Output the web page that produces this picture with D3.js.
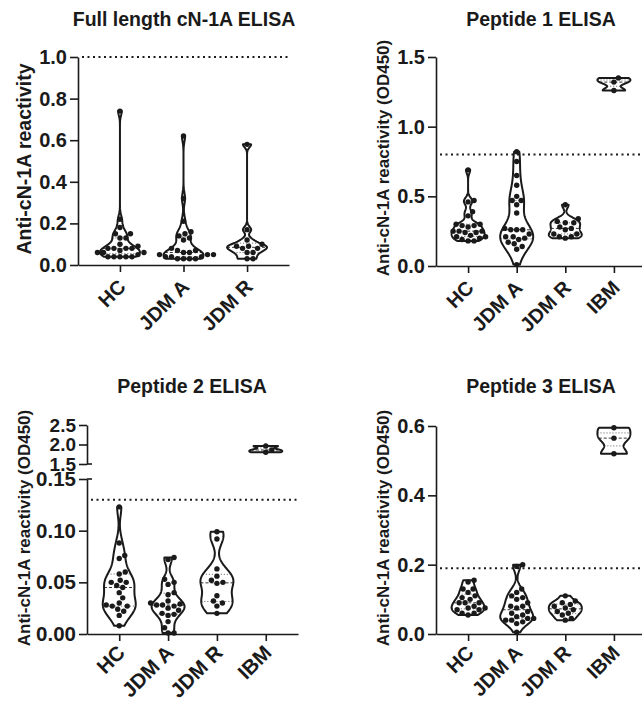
<!DOCTYPE html>
<html><head><meta charset="utf-8">
<script src="https://cdn.jsdelivr.net/npm/d3@7/dist/d3.min.js"></script>
<style>
body{margin:0;background:#fff}
text{font-family:"Liberation Sans",Arial,sans-serif;font-weight:bold;fill:#1a1a1a}
</style></head>
<body><svg id="c" width="642" height="703"></svg>
<script>
// ---------- data ----------
const categories = ["HC", "JDM A", "JDM R", "IBM"];
const titles = ["Full length cN-1A ELISA", "Peptide 1 ELISA", "Peptide 2 ELISA", "Peptide 3 ELISA"];
const yLabels = ["Anti-cN-1A reactivity", "Anti-cN-1A reactivity (OD450)", "Anti-cN-1A reactivity (OD450)", "Anti-cN-1A reactivity (OD450)"];
const thresholds = [1.0, 0.8, 0.13, 0.19];

const fullHC   = [0.74,0.22,0.18,0.15,0.15,0.13,0.13,0.10,0.09,0.08,0.08,0.08,0.08,0.07,0.06,0.06,0.06,0.05,0.04,0.04,0.04,0.04,0.04];
const fullJDMA = [0.62,0.32,0.21,0.16,0.15,0.14,0.13,0.12,0.08,0.07,0.07,0.06,0.06,0.05,0.05,0.05,0.04,0.04,0.04,0.03,0.03,0.03,0.03];
const fullJDMR = [0.58,0.17,0.12,0.10,0.09,0.09,0.08,0.08,0.06,0.06,0.03,0.03];

const pep1HC   = [0.69,0.47,0.46,0.39,0.36,0.30,0.30,0.29,0.29,0.28,0.25,0.25,0.25,0.24,0.24,0.22,0.21,0.21,0.20,0.19,0.18,0.18];
const pep1JDMA = [0.82,0.75,0.65,0.58,0.50,0.47,0.47,0.44,0.38,0.27,0.26,0.26,0.26,0.23,0.21,0.21,0.20,0.19,0.17,0.16,0.14,0.12,0.01];
const pep1JDMR = [0.44,0.34,0.32,0.31,0.31,0.28,0.27,0.26,0.23,0.23,0.21,0.21,0.20];
const pep1IBM  = [1.35,1.32,1.26];

const pep2HC   = [0.123,0.088,0.076,0.073,0.060,0.058,0.052,0.050,0.050,0.047,0.045,0.040,0.035,0.030,0.028,0.027,0.027,0.024,0.022,0.018,0.008];
const pep2JDMA = [0.074,0.072,0.053,0.050,0.048,0.040,0.038,0.032,0.030,0.029,0.028,0.028,0.027,0.025,0.023,0.020,0.019,0.018,0.012,0.006,0.001,0.001];
const pep2JDMR = [0.099,0.092,0.063,0.056,0.052,0.050,0.049,0.037,0.032,0.030,0.027,0.020];
const pep2IBM  = [1.96,1.86,1.80];

const pep3HC   = [0.155,0.15,0.13,0.13,0.12,0.11,0.105,0.10,0.09,0.09,0.09,0.08,0.075,0.075,0.07,0.07,0.06,0.06,0.055];
const pep3JDMA = [0.20,0.195,0.13,0.12,0.11,0.105,0.10,0.09,0.08,0.08,0.075,0.065,0.06,0.055,0.05,0.045,0.045,0.04,0.04,0.035,0.03,0.005];
const pep3JDMR = [0.11,0.095,0.09,0.085,0.08,0.075,0.07,0.065,0.06,0.055,0.045,0.04];
const pep3IBM  = [0.595,0.565,0.52];

const ticksFull = [0, 0.2, 0.4, 0.6, 0.8, 1.0];
const ticksPep1 = [0, 0.5, 1.0, 1.5];
const ticksPep2Low = [0, 0.05, 0.10, 0.15];
const ticksPep2High = [1.5, 2.0, 2.5];
const ticksPep3 = [0, 0.2, 0.4, 0.6];

// ---------- layout ----------
const svg = d3.select("#c");
const INK = "#1a1a1a";

const panels = [
  {title: titles[0], ylab: yLabels[0], thr: thresholds[0], cats: categories.slice(0,3),
   data: [fullHC, fullJDMA, fullJDMR], ymax: 1.0, ticks: ticksFull, fmt: ".1f",
   left: 78, xLen: 211, top: 57, bottom: 265, W: 20, tfs: 20, lfs: 19.5, xl: 23,
   titleX: 184, titleY: 26, labX: 24, labY: 159},
  {title: titles[1], ylab: yLabels[1], thr: thresholds[1], cats: categories,
   data: [pep1HC, pep1JDMA, pep1JDMR, pep1IBM], ymax: 1.5, ticks: ticksPep1, fmt: ".1f",
   left: 436, xLen: 210, top: 57, bottom: 266, W: 16.5, tfs: 20, lfs: 17, xl: 23,
   titleX: 541, titleY: 26, labX: 383, labY: 158},
  {title: titles[2], ylab: yLabels[2], thr: thresholds[2], cats: categories,
   data: [pep2HC, pep2JDMA, pep2JDMR, pep2IBM], ymax: 0.15, ticks: ticksPep2Low, fmt: ".2f",
   left: 87, xLen: 211, top: 479, bottom: 634, W: 16.5, tfs: 20.5, lfs: 17, xl: 20,
   titleX: 192, titleY: 393, labX: 24, labY: 528,
   upper: {domain: [1.5, 2.5], range: [464, 425], ticks: ticksPep2High, fmt: ".1f", groups: [3], fs: 19}},
  {title: titles[3], ylab: yLabels[3], thr: thresholds[3], cats: categories,
   data: [pep3HC, pep3JDMA, pep3JDMR, pep3IBM], ymax: 0.6, ticks: ticksPep3, fmt: ".1f",
   left: 436, xLen: 210, top: 426, bottom: 634, W: 16.5, tfs: 20, lfs: 17, xl: 20,
   titleX: 541, titleY: 393, labX: 383, labY: 528}
];

function bandwidth(s) {
  const sd = d3.deviation(s);
  const iqr = (d3.quantile(s, 0.75) - d3.quantile(s, 0.25)) / 1.34;
  const a = iqr > 0 ? Math.min(sd, iqr) : sd;
  return 0.8 * 0.9 * a * Math.pow(s.length, -0.2);
}

function drawViolin(g, vals, cx, y, W) {
  const s = vals.slice().sort(d3.ascending);
  const lo = s[0], hi = s[s.length - 1];
  const h = bandwidth(s);
  const dens = t => d3.sum(s, v => Math.exp(-0.5 * ((t - v) / h) ** 2));
  const N = 120;
  const samples = d3.range(N + 1).map(i => lo + (hi - lo) * i / N);
  const dv = samples.map(dens);
  const m = d3.max(dv);
  const pts = samples.map((t, i) => ({v: t, w: dv[i] / m * W}));
  const area = d3.area().y(d => y(d.v)).x0(d => cx - d.w).x1(d => cx + d.w);
  [0.25, 0.5, 0.75].forEach(p => {
    const q = d3.quantile(s, p);
    const w = dens(q) / m * W;
    g.append("line").attr("x1", cx - w).attr("x2", cx + w)
      .attr("y1", y(q)).attr("y2", y(q))
      .attr("stroke", p === 0.5 ? "#333" : "#777").attr("stroke-width", 1)
      .attr("stroke-dasharray", p === 0.5 ? "3,2" : "1.2,1.8");
  });
  g.append("path").attr("d", area(pts)).attr("fill", "none")
    .attr("stroke", INK).attr("stroke-width", 2).attr("stroke-linejoin", "round");
  const r = 2.7;
  const placed = [];
  s.map(v => ({v, py: y(v)})).sort((a, b) => b.py - a.py).forEach(p => {
    let off = 0;
    for (let k = 0; k < 400; k++) {
      const o = (k % 2 ? 1 : -1) * Math.ceil(k / 2) * 0.5;
      const ok = placed.every(q => (q.px - (cx + o)) ** 2 + (q.py - p.py) ** 2 >= (2 * r + 0.6) ** 2);
      if (ok) { off = o; break; }
    }
    p.px = cx + off; placed.push(p);
  });
  g.selectAll(null).data(placed).enter().append("circle")
    .attr("cx", d => d.px).attr("cy", d => d.py).attr("r", r).attr("fill", INK);
}

function styleAxis(sel, fs) {
  sel.selectAll("path.domain").attr("stroke", INK).attr("stroke-width", 1.6);
  sel.selectAll(".tick line").attr("stroke", INK).attr("stroke-width", 1.6);
  sel.selectAll(".tick text").attr("font-size", fs).style("font-family", "'Liberation Sans',Arial,sans-serif")
    .style("font-weight", "bold").attr("fill", INK);
}

panels.forEach(cfg => {
  const g = svg.append("g");
  const x = d3.scalePoint().domain(cfg.cats).range([cfg.left, cfg.left + cfg.xLen]).padding(0.66);
  const y = d3.scaleLinear().domain([0, cfg.ymax]).range([cfg.bottom, cfg.top]);

  g.append("text").attr("x", cfg.titleX).attr("y", cfg.titleY).attr("text-anchor", "middle")
    .attr("font-size", 19.5).text(cfg.title);
  g.append("text").attr("transform", `translate(${cfg.labX},${cfg.labY}) rotate(-90)`)
    .attr("text-anchor", "middle").attr("dominant-baseline", "central")
    .attr("font-size", cfg.lfs).text(cfg.ylab);

  const ya = g.append("g").attr("transform", `translate(${cfg.left},0)`)
    .call(d3.axisLeft(y).tickValues(cfg.ticks).tickFormat(d3.format(cfg.fmt)).tickSize(8).tickSizeOuter(0).tickPadding(3));
  styleAxis(ya, cfg.tfs);

  const xa = g.append("g").attr("transform", `translate(0,${cfg.bottom})`)
    .call(d3.axisBottom(x).tickSize(7).tickSizeOuter(0).tickFormat(""));
  styleAxis(xa, cfg.tfs);
  g.selectAll(null).data(cfg.cats).enter().append("text")
    .attr("transform", d => `translate(${x(d) + 7},${cfg.bottom + cfg.xl}) rotate(-45)`)
    .attr("text-anchor", "end").attr("font-size", cfg.tfs).text(d => d);

  let yU = null;
  if (cfg.upper) {
    yU = d3.scaleLinear().domain(cfg.upper.domain).range(cfg.upper.range);
    const ua = g.append("g").attr("transform", `translate(${cfg.left},0)`)
      .call(d3.axisLeft(yU).tickValues(cfg.upper.ticks).tickFormat(d3.format(cfg.upper.fmt)).tickSize(8).tickSizeOuter(0).tickPadding(3));
    styleAxis(ua, cfg.upper.fs);
    g.append("line").attr("x1", cfg.left).attr("x2", cfg.left + 5)
      .attr("y1", yU(cfg.upper.domain[0])).attr("y2", yU(cfg.upper.domain[0])).attr("stroke", INK).attr("stroke-width", 1.6);
    g.append("line").attr("x1", cfg.left).attr("x2", cfg.left + 5)
      .attr("y1", y(cfg.ymax)).attr("y2", y(cfg.ymax)).attr("stroke", INK).attr("stroke-width", 1.6);
  }

  g.append("line").attr("x1", cfg.left + 4).attr("x2", cfg.left + cfg.xLen)
    .attr("y1", y(cfg.thr)).attr("y2", y(cfg.thr))
    .attr("stroke", INK).attr("stroke-width", 2).attr("stroke-dasharray", "2,3.5");

  cfg.data.forEach((vals, i) => {
    const sc = (cfg.upper && cfg.upper.groups.includes(i)) ? yU : y;
    drawViolin(g, vals, x(cfg.cats[i]), sc, cfg.W);
  });
});
</script></body></html>
